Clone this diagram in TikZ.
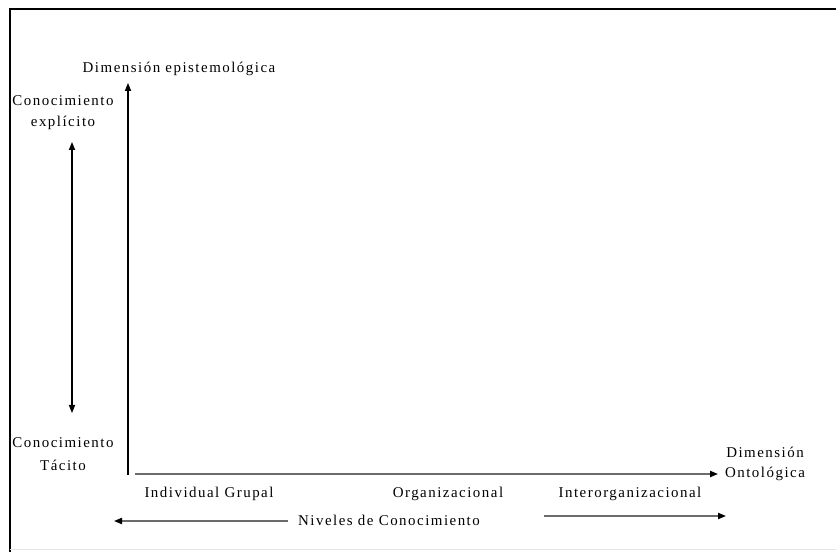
\documentclass[tikz,border=0pt]{standalone}
\usepackage{fontspec}
\setmainfont{Liberation Serif}[LetterSpace=10]
\usetikzlibrary{arrows.meta}
\begin{document}
\begin{tikzpicture}[x=0.75pt,y=-0.75pt,
  lbl/.style={inner sep=0pt,font=\fontsize{11.2}{15}\selectfont},
  twoline/.style={lbl,align=center},
  axis/.style={line width=1pt,-{Triangle[length=6pt,width=4.6pt]}},
  grayaxis/.style={line width=1.2pt,draw=black!58,-{Triangle[length=6pt,width=4.6pt,color=black]}},
  dbl/.style={line width=1pt,{Triangle[length=6pt,width=4.6pt]}-{Triangle[length=6pt,width=4.6pt]}}]
  \useasboundingbox (0,0) rectangle (836,552);
  % frame
  \draw[line width=1.5pt] (9.5,552) -- (9.5,9.5) -- (836,9.5);
  \draw[line width=1pt,black!10] (10,549.5) -- (836,549.5);

  % labels
  \node[lbl,anchor=base] (epi) at (179,73) {Dimensión epistemológica};
  \node[lbl,anchor=base] (exp1) at (63,106) {Conocimiento};
  \node[lbl,anchor=base] (exp2) at (63,127) {explícito};
  \node[lbl,anchor=base] (tac1) at (63,448) {Conocimiento};
  \node[lbl,anchor=base] (tac2) at (63,470) {Tácito};
  \node[lbl,anchor=base] (ind) at (209,498) {Individual Grupal};
  \node[lbl,anchor=base] (org) at (448,498) {Organizacional};
  \node[lbl,anchor=base] (inter) at (630,498) {Interorganizacional};
  \node[lbl,anchor=base] (niv) at (389,525) {Niveles de Conocimiento};
  \node[lbl,anchor=base] (ont1) at (765,457) {Dimensión};
  \node[lbl,anchor=base] (ont2) at (765,477) {Ontológica};

  % axis endpoints
  \coordinate (vb) at (128,475);
  \coordinate (vt) at (128,83);
  \coordinate (hb) at (135,474);
  \coordinate (ht) at (718,474);
  \coordinate (dt) at (72,142);
  \coordinate (db) at (72,413);
  \coordinate (ls) at (288,521);
  \coordinate (le) at (114,521);
  \coordinate (rs) at (544,516);
  \coordinate (re) at (726,516);

  \draw[axis] (vb) -- (vt);
  \draw[grayaxis] (hb) -- (ht);
  \draw[dbl] (dt) -- (db);
  \draw[grayaxis] (ls) -- (le);
  \draw[grayaxis] (rs) -- (re);
\end{tikzpicture}
\end{document}
